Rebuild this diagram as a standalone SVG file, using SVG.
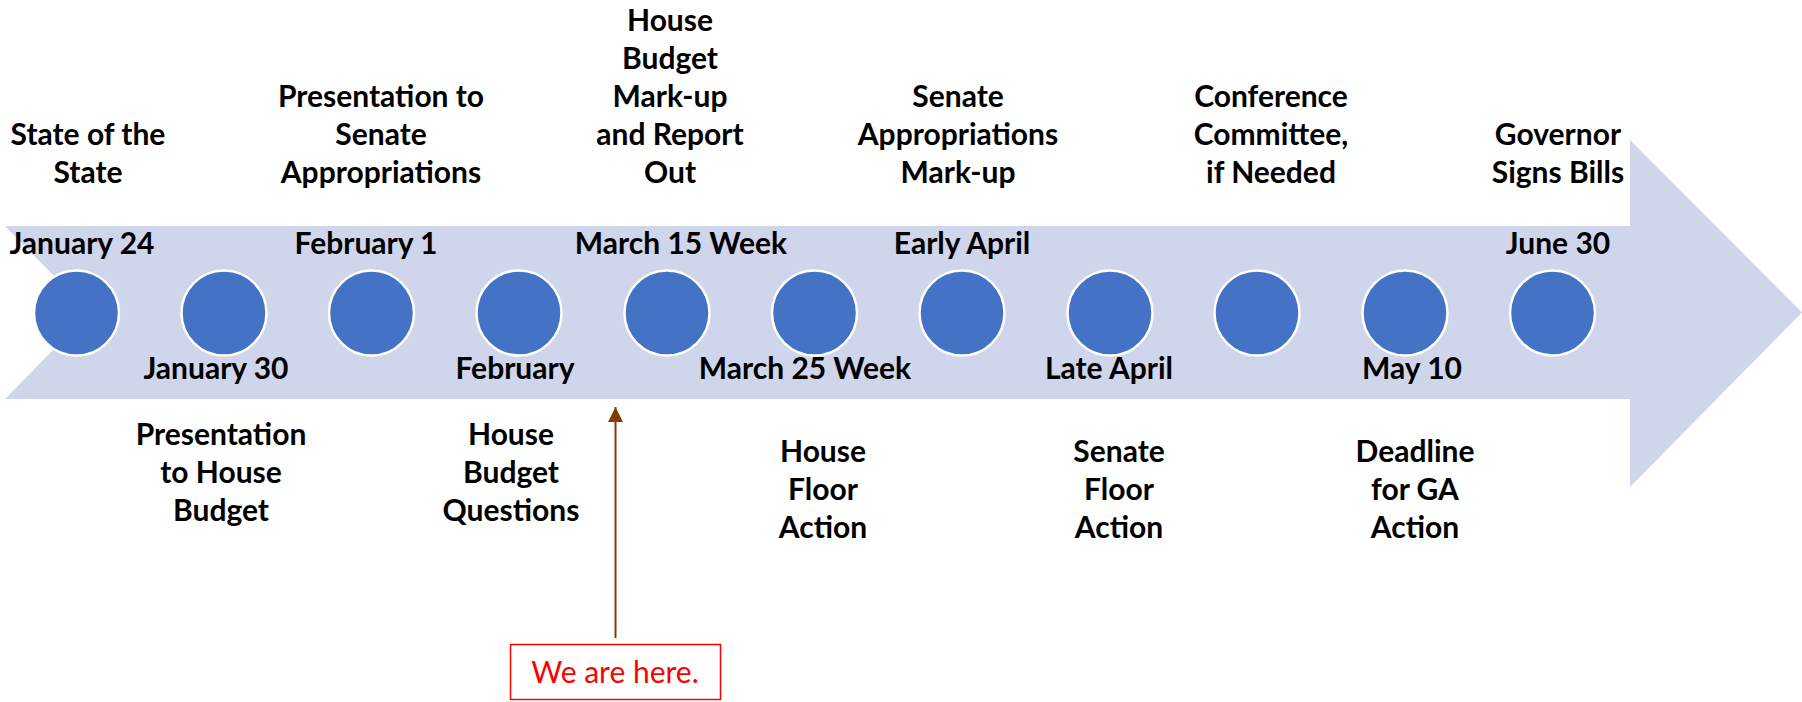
<svg xmlns="http://www.w3.org/2000/svg" width="1802" height="702" viewBox="0 0 1802 702">
<defs>
<style>
.lbl{font-family:Lato,"Liberation Sans",sans-serif;font-weight:bold;font-size:30px;fill:#000;text-anchor:middle}
.dot{fill:#4472C4;stroke:#fff;stroke-width:2.5}
.here{font-family:Lato,"Liberation Sans",sans-serif;font-size:30px;fill:#FF0000;text-anchor:middle}
</style>
<marker id="ah" viewBox="0 0 10 10" refX="10" refY="5" markerWidth="7.5" markerHeight="7.5" markerUnits="strokeWidth" orient="auto">
<path d="M0,0 L10,5 L0,10 z" fill="#843C0C"/>
</marker>
</defs>
<rect width="1802" height="702" fill="#fff"/>
<g id="timeline-arrow">
<polygon points="5,226 1630,226 1630,140 1802,312.5 1630,487 1630,399 5,399 90,312.5" fill="#CFD5EA"/>
</g>
<g id="m1"><circle class="dot" cx="76.5" cy="313" r="42.5"/>
<text class="lbl"><tspan x="88" y="145">State of the</tspan><tspan x="88" y="183">State</tspan></text>
<text class="lbl" x="82" y="254">January 24</text></g>
<g id="m2"><circle class="dot" cx="224" cy="313" r="42.5"/>
<text class="lbl" x="216" y="379">January 30</text>
<text class="lbl"><tspan x="221" y="445">Presentation</tspan><tspan x="221" y="483">to House</tspan><tspan x="221" y="521">Budget</tspan></text></g>
<g id="m3"><circle class="dot" cx="371.5" cy="313" r="42.5"/>
<text class="lbl"><tspan x="381" y="107">Presentation to</tspan><tspan x="381" y="145">Senate</tspan><tspan x="381" y="183">Appropriations</tspan></text>
<text class="lbl" x="366" y="254">February 1</text></g>
<g id="m4"><circle class="dot" cx="519" cy="313" r="42.5"/>
<text class="lbl" x="515" y="379">February</text>
<text class="lbl"><tspan x="511" y="445">House</tspan><tspan x="511" y="483">Budget</tspan><tspan x="511" y="521">Questions</tspan></text></g>
<g id="m5"><circle class="dot" cx="667" cy="313" r="42.5"/>
<text class="lbl"><tspan x="670" y="31">House</tspan><tspan x="670" y="69">Budget</tspan><tspan x="670" y="107">Mark-up</tspan><tspan x="670" y="145">and Report</tspan><tspan x="670" y="183">Out</tspan></text>
<text class="lbl" x="681" y="254">March 15 Week</text></g>
<g id="m6"><circle class="dot" cx="814.5" cy="313" r="42.5"/>
<text class="lbl" x="805" y="379">March 25 Week</text>
<text class="lbl"><tspan x="823" y="462">House</tspan><tspan x="823" y="500">Floor</tspan><tspan x="823" y="538">Action</tspan></text></g>
<g id="m7"><circle class="dot" cx="962" cy="313" r="42.5"/>
<text class="lbl"><tspan x="958" y="107">Senate</tspan><tspan x="958" y="145">Appropriations</tspan><tspan x="958" y="183">Mark-up</tspan></text>
<text class="lbl" x="962" y="254">Early April</text></g>
<g id="m8"><circle class="dot" cx="1110" cy="313" r="42.5"/>
<text class="lbl" x="1109" y="379">Late April</text>
<text class="lbl"><tspan x="1119" y="462">Senate</tspan><tspan x="1119" y="500">Floor</tspan><tspan x="1119" y="538">Action</tspan></text></g>
<g id="m9"><circle class="dot" cx="1257" cy="313" r="42.5"/>
<text class="lbl"><tspan x="1271" y="107">Conference</tspan><tspan x="1271" y="145">Committee,</tspan><tspan x="1271" y="183">if Needed</tspan></text></g>
<g id="m10"><circle class="dot" cx="1405" cy="313" r="42.5"/>
<text class="lbl" x="1412" y="379">May 10</text>
<text class="lbl"><tspan x="1415" y="462">Deadline</tspan><tspan x="1415" y="500">for GA</tspan><tspan x="1415" y="538">Action</tspan></text></g>
<g id="m11"><circle class="dot" cx="1552.5" cy="313" r="42.5"/>
<text class="lbl"><tspan x="1558" y="145">Governor</tspan><tspan x="1558" y="183">Signs Bills</tspan></text>
<text class="lbl" x="1558" y="254">June 30</text></g>
<g id="we-are-here">
<rect x="510.5" y="644.5" width="210" height="55" fill="#fff" stroke="#FF0000" stroke-width="1.5"/>
<text class="here" x="615" y="683">We are here.</text>
</g>
<g id="connectors">
<line x1="615.5" y1="638" x2="615.5" y2="407" stroke="#843C0C" stroke-width="2" marker-end="url(#ah)"/>
</g>
</svg>
